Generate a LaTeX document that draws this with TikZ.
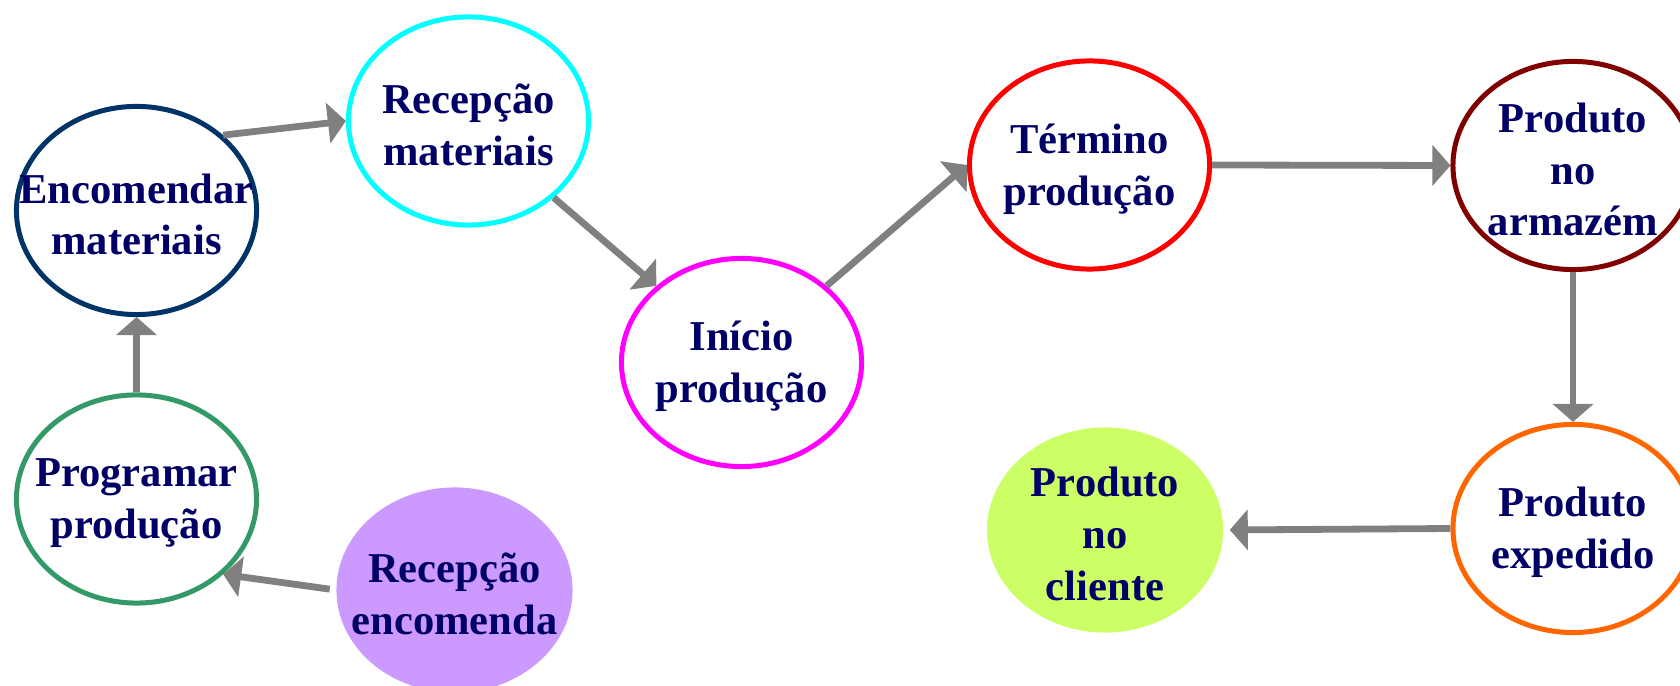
\documentclass[tikz,border=0pt]{standalone}
\usepackage{fontspec}
\setmainfont{Liberation Serif}
\usetikzlibrary{shapes.geometric,arrows.meta}
\definecolor{txtblue}{HTML}{000066}
\definecolor{arrowgray}{HTML}{808080}
\definecolor{cEnc}{HTML}{003366}
\definecolor{cRecMat}{HTML}{00FFFF}
\definecolor{cIni}{HTML}{FF00FF}
\definecolor{cTerm}{HTML}{FF0000}
\definecolor{cArm}{HTML}{800000}
\definecolor{cExp}{HTML}{FF6600}
\definecolor{cProg}{HTML}{339966}
\definecolor{cCli}{HTML}{CCFF66}
\definecolor{cRecEnc}{HTML}{CC99FF}
\begin{document}
\begin{tikzpicture}[x=0.01cm,y=-0.01cm,
  ell/.style={ellipse, inner sep=0pt, minimum width=2.4cm, minimum height=2.08cm, line width=0.05cm, fill=white},
  fillell/.style={ellipse, inner sep=0pt, minimum width=2.36cm, minimum height=2.05cm, draw=none},
  lbl/.style={align=center, text=txtblue, font=\fontsize{12.1}{14.7}\selectfont\bfseries, inner sep=0pt, yshift=-0.04cm},
  flow/.style={draw=arrowgray, line width=0.068cm, -{Triangle[length=0.18cm,width=0.40cm]}}]
\useasboundingbox (0,0) rectangle (1680,686);
\clip (0,0) rectangle (1680,686);
% ellipses
\node[ell, draw=cEnc] (enc) at (136.5,210.5) {};
\node[ell, draw=cRecMat] (recmat) at (468.5,121) {};
\node[ell, draw=cIni] (ini) at (741.5,362.5) {};
\node[ell, draw=cTerm] (term) at (1089.5,165) {};
\node[ell, draw=cArm] (arm) at (1573,165.5) {};
\node[ell, draw=cExp] (exp) at (1573,528.5) {};
\node[ell, draw=cProg] (prog) at (136.5,499) {};
\node[fillell, fill=cCli] (cli) at (1105,530) {};
\node[fillell, fill=cRecEnc] (recenc) at (454.5,590) {};
% labels
\node[lbl] (enct) at (enc) {Encomendar\\materiais};
\node[lbl] (recmatt) at (recmat) {Recepção\\materiais};
\node[lbl] (init) at (ini) {Início\\produção};
\node[lbl] (termt) at (term) {Término\\produção};
\node[lbl] (armt) at (arm) {Produto\\no\\armazém};
\node[lbl] (expt) at (exp) {Produto\\expedido};
\node[lbl] (progt) at (prog) {Programar\\produção};
\node[lbl] (clit) at (cli) {Produto\\no\\cliente};
\node[lbl] (recenct) at (recenc) {Recepção\\encomenda};
% connectors
\draw[flow] (prog.north) -- (enc.south);
\draw[flow] (enc.41.8) -- (recmat.west);
\draw[flow] (recmat.-42) -- (ini.138);
\draw[flow] (ini.42) -- (term.west);
\draw[flow] (term.east) -- (arm.west);
\draw[flow] (arm.south) -- (exp.north);
\draw[flow, shorten >=0.06cm] (exp.west) -- (cli.east);
\draw[flow, shorten <=0.06cm] (recenc.west) -- (prog.-41);
\end{tikzpicture}
\end{document}
